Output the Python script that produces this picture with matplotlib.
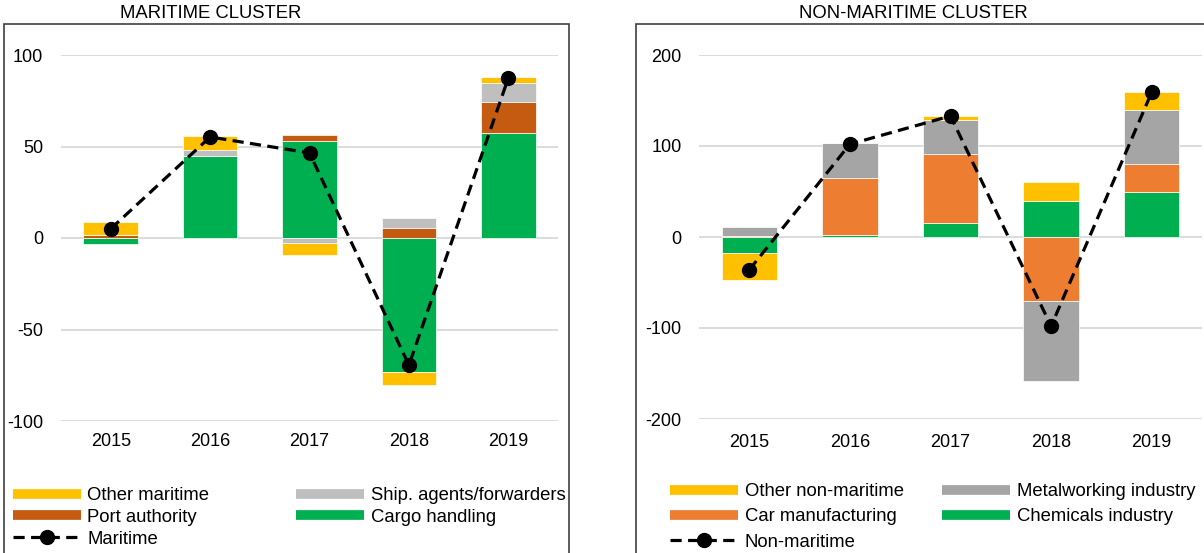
import numpy as np
import matplotlib.pyplot as plt
from matplotlib.lines import Line2D
from matplotlib.patches import Rectangle

plt.rcParams['font.family'] = ['Liberation Sans', 'DejaVu Sans']
plt.rcParams['axes.unicode_minus'] = False

# Data
years = ['2015', '2016', '2017', '2018', '2019']

# Maritime cluster
cargo_handling = [-3.5, 44.9, 53.1, -73.0, 57.3]
port_authority = [1.5, 0.0, 3.1, 5.7, 17.0]
ship_agents = [0.0, 3.1, -2.6, 5.5, 10.2]
other_maritime = [7.1, 7.7, -6.9, -7.3, 3.3]
maritime_total = [5.0, 55.2, 46.5, -69.5, 87.4]

# Non-maritime cluster
chemicals = [-17.6, 2.2, 15.4, 39.2, 49.5]
car_manufacturing = [1.0, 62.7, 75.9, -70.8, 30.8]
metalworking = [10.0, 38.1, 37.4, -86.9, 59.4]
other_non_maritime = [-29.7, 0.8, 4.4, 21.3, 19.4]
non_maritime_total = [-36.0, 102.0, 133.0, -98.0, 159.0]

C_YELLOW = '#FFC000'
C_RUST = '#C55A11'
C_LGRAY = '#BFBFBF'
C_GREEN = '#00B050'
C_ORANGE = '#ED7D31'
C_GRAY = '#A5A5A5'
GRID = '#D9D9D9'
FS = 13.3


def stacked(ax, series, colors):
    x = np.arange(len(years))
    pos = np.zeros(len(years))
    neg = np.zeros(len(years))
    for vals, c in zip(series, colors):
        v = np.array(vals, dtype=float)
        bottom = np.where(v >= 0, pos, neg)
        ax.bar(x, v, bottom=bottom, width=0.55, color=c,
               edgecolor='white', linewidth=0.5, zorder=2)
        pos = pos + np.where(v > 0, v, 0)
        neg = neg + np.where(v < 0, v, 0)


def style(ax, ylim, ticks, ypad, xpad):
    ax.set_xlim(-0.5, len(years) - 0.5)
    ax.set_ylim(*ylim)
    ax.set_yticks(ticks)
    ax.set_xticks(np.arange(len(years)))
    ax.set_xticklabels(years)
    for s in ax.spines.values():
        s.set_visible(False)
    ax.grid(True, axis='y', color=GRID, linewidth=1.3, zorder=0)
    ax.set_axisbelow(True)
    ax.tick_params(axis='y', length=0, pad=ypad, labelsize=13)
    ax.tick_params(axis='x', length=0, pad=xpad, labelsize=13)


fig = plt.figure(figsize=(12.04, 5.53), dpi=100)
W, H = 1204, 553

# chart area frames
fig.patches.append(Rectangle((3.5 / W, -0.1), 565.5 / W, 1 - 24 / H + 0.1,
                             transform=fig.transFigure, fill=False,
                             edgecolor='#404040', linewidth=1.2))
fig.patches.append(Rectangle((636 / W, -0.1), 0.6, 1 - 24 / H + 0.1,
                             transform=fig.transFigure, fill=False,
                             edgecolor='#404040', linewidth=1.2))

ax1 = fig.add_axes([61 / W, 1 - 421 / H, 497 / W, 366 / H])
ax2 = fig.add_axes([699 / W, 1 - 419 / H, 503 / W, 364 / H])

x = np.arange(len(years))
line_kw = dict(color='black', linewidth=2.3, linestyle=(0, (3.5, 2)),
               marker='o', markersize=10, zorder=4)

stacked(ax1, [cargo_handling, port_authority, ship_agents, other_maritime],
        [C_GREEN, C_RUST, C_LGRAY, C_YELLOW])
ax1.plot(x, maritime_total, **line_kw)
style(ax1, (-100, 100), [-100, -50, 0, 50, 100], 13, 9)

stacked(ax2, [chemicals, car_manufacturing, metalworking, other_non_maritime],
        [C_GREEN, C_ORANGE, C_GRAY, C_YELLOW])
ax2.plot(x, non_maritime_total, **line_kw)
style(ax2, (-200, 200), [-200, -100, 0, 100, 200], 12.5, 10.5)

fig.text(211 / W, 1 - 14 / H, 'MARITIME CLUSTER', ha='center', va='center', fontsize=FS)
fig.text(913 / W, 1 - 14 / H, 'NON-MARITIME CLUSTER', ha='center', va='center', fontsize=FS)


def bar_handle(c):
    return Line2D([], [], color=c, linewidth=7, solid_capstyle='butt')


line_handle = Line2D([], [], color='black', linewidth=2.3, linestyle=(0, (3.5, 2)),
                     marker='o', markersize=10)

leg_kw = dict(loc='upper left', ncol=2, frameon=False, fontsize=FS,
              handlelength=3.68, handletextpad=0.36,
              borderpad=0, borderaxespad=0, numpoints=1)

fig.legend([bar_handle(C_YELLOW), bar_handle(C_RUST), line_handle,
            bar_handle(C_LGRAY), bar_handle(C_GREEN)],
           ['Other maritime', 'Port authority', 'Maritime',
            'Ship. agents/forwarders', 'Cargo handling'],
           bbox_to_anchor=(12.7 / W, 1 - 487 / H), columnspacing=4.7,
           labelspacing=0.26, **leg_kw)

fig.legend([bar_handle(C_YELLOW), bar_handle(C_ORANGE), line_handle,
            bar_handle(C_GRAY), bar_handle(C_GREEN)],
           ['Other non-maritime', 'Car manufacturing', 'Non-maritime',
            'Metalworking industry', 'Chemicals industry'],
           bbox_to_anchor=(670 / W, 1 - 483 / H), columnspacing=2.1,
           labelspacing=0.45, **leg_kw)

fig.savefig('out.png', dpi=100)
